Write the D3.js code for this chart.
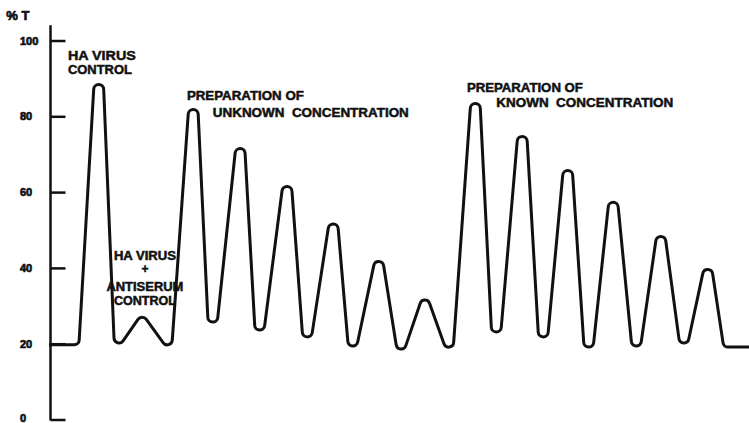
<!DOCTYPE html>
<html>
<head>
<meta charset="utf-8">
<script src="https://cdn.jsdelivr.net/npm/d3@7"></script>
<style>
    body { margin: 0; background: #fff; }
    text { font-family: "Liberation Sans", Arial, sans-serif; font-weight: bold; fill: #111; stroke: #111; stroke-width: 0.5; }
</style>
</head>
<body>
<div id="chart"></div>
<script>
// trace: position along the run (0-100) and % transmission
const traceX = [0, 3.6, 7.1, 10.0, 13.3, 16.9, 20.6, 23.4, 27.3, 30.1, 34.0, 36.9, 40.6, 43.4,
    47.1, 50.3, 53.7, 57.1, 60.9, 63.9, 67.6, 70.6, 74.1, 77.1, 80.6, 83.9, 87.4, 90.7, 94.1, 97.0, 100];
const traceT = [19.7, 19.7, 88.4, 20.2, 27.0, 19.7, 81.8, 25.7, 71.5, 23.6, 61.5, 21.8, 51.6, 19.4,
    41.7, 18.6, 31.5, 19.1, 83.4, 23.1, 74.7, 21.8, 65.7, 19.1, 57.3, 19.4, 48.3, 20.2, 39.6, 19.1, 19.1];

const yTicks = [0, 20, 40, 60, 80, 100];
const yTitle = "% T";

const labelText = [
    "HA VIRUS", "CONTROL",
    "PREPARATION OF", "UNKNOWN  CONCENTRATION",
    "PREPARATION OF", "KNOWN  CONCENTRATION",
    "HA VIRUS", "+", "ANTISERUM", "CONTROL"
];

// where each label line sits, in chart units (x along run, v in %T)
const labelLayout = [
    {x: 2.7, v: 94.9, size: 13.5, len: 68},
    {x: 2.7, v: 91.2, size: 13.5, len: 64},
    {x: 19.7, v: 84.3, size: 12.5, len: 117},
    {x: 23.4, v: 79.7, size: 12.5, len: 196},
    {x: 59.7, v: 86.4, size: 12.5, len: 116},
    {x: 63.9, v: 82.5, size: 12.5, len: 177},
    {x: 13.7, v: 42.1, size: 12, len: 62, anchor: "middle"},
    {x: 13.7, v: 38.6, size: 12, anchor: "middle"},
    {x: 13.7, v: 33.9, size: 12, len: 77, anchor: "middle"},
    {x: 13.7, v: 30.2, size: 12, len: 62, anchor: "middle"}
];

const width = 749, height = 423;
const R = 5; // radius of the rounded peak / trough tips

const x = d3.scaleLinear().domain([0, 100]).range([49, 749]);
const y = d3.scaleLinear().domain([0, 100]).range([419.5, 40.5]);

const svg = d3.select("#chart")
    .append("svg")
    .attr("width", width)
    .attr("height", height);

// curve that rounds every vertex with a circle whose extreme touches the point
function tipCurve(context) {
    let pts;
    return {
        areaStart() {}, areaEnd() {},
        lineStart() { pts = []; },
        point(px, py) { pts.push([+px, +py]); },
        lineEnd() {
            const n = pts.length;
            if (!n) return;
            const nodes = pts.map((p, i) => {
                if (i === 0 || i === n - 1) return {c: p, r: 0};
                const a = pts[i - 1], b = pts[i + 1];
                const cross = (p[0] - a[0]) * (b[1] - p[1]) - (p[1] - a[1]) * (b[0] - p[0]);
                const peak = cross > 0;
                return {c: [p[0], p[1] + (peak ? R : -R)], r: R, peak: peak};
            });
            // tangent normals between consecutive nodes
            const normals = [];
            for (let i = 0; i < n - 1; i++) {
                const A = nodes[i], B = nodes[i + 1];
                const dx = B.c[0] - A.c[0], dy = B.c[1] - A.c[1];
                const d = Math.hypot(dx, dy);
                const phi = Math.atan2(dy, dx);
                const k = Math.max(-1, Math.min(1, (A.r + B.r) / d));
                const alpha = Math.acos(k);
                const minus = (A.r && A.peak) || (B.r && !B.peak);
                const ang = minus ? phi - alpha : phi + alpha;
                normals.push([Math.cos(ang), Math.sin(ang)]);
            }
            context.moveTo(pts[0][0], pts[0][1]);
            for (let i = 1; i < n - 1; i++) {
                const N = nodes[i], nin = normals[i - 1], nout = normals[i];
                const a0 = Math.atan2(-nin[1], -nin[0]);
                const a1 = Math.atan2(nout[1], nout[0]);
                context.arc(N.c[0], N.c[1], R, a0, a1, !N.peak);
            }
            context.lineTo(pts[n - 1][0], pts[n - 1][1]);
        }
    };
}

// axis
const axisG = svg.append("g")
    .attr("transform", `translate(${x(0) + 1.5},0)`)
    .call(d3.axisLeft(y).tickValues(yTicks).tickSizeInner(-15).tickSizeOuter(0).tickPadding(0));

axisG.select(".domain").remove();
axisG.selectAll(".tick line").attr("stroke", "#111").attr("stroke-width", 2.5);
axisG.selectAll(".tick text")
    .attr("x", -30.5)
    .attr("dy", (d) => d === 0 ? "0.2em" : "0.32em")
    .attr("text-anchor", "start")
    .attr("font-size", 11)
    .attr("font-family", null)
    .attr("fill", null)
    .style("stroke-width", 0.7);

axisG.append("line")
    .attr("x1", 0).attr("x2", 0)
    .attr("y1", y(0) + 1).attr("y2", y(104))
    .attr("stroke", "#111")
    .attr("stroke-width", 2.5);

svg.append("text")
    .attr("x", x(-6.1))
    .attr("y", y(105.4))
    .attr("font-size", 13)
    .style("stroke-width", 0.7)
    .text(yTitle);

// trace
const line = d3.line()
    .x(d => x(d[0]))
    .y(d => y(d[1]))
    .curve(tipCurve);

svg.append("path")
    .datum(traceX.map((v, i) => [v, traceT[i]]))
    .attr("d", line)
    .attr("fill", "none")
    .attr("stroke", "#111")
    .attr("stroke-width", 3)
    .attr("stroke-linejoin", "round");

// labels
svg.selectAll(".label")
    .data(labelText)
    .join("text")
    .attr("class", "label")
    .attr("x", (d, i) => x(labelLayout[i].x))
    .attr("y", (d, i) => y(labelLayout[i].v))
    .attr("font-size", (d, i) => labelLayout[i].size)
    .attr("text-anchor", (d, i) => labelLayout[i].anchor || "start")
    .attr("textLength", (d, i) => labelLayout[i].len || null)
    .attr("lengthAdjust", "spacingAndGlyphs")
    .style("white-space", "pre")
    .text(d => d);
</script>
</body>
</html>
